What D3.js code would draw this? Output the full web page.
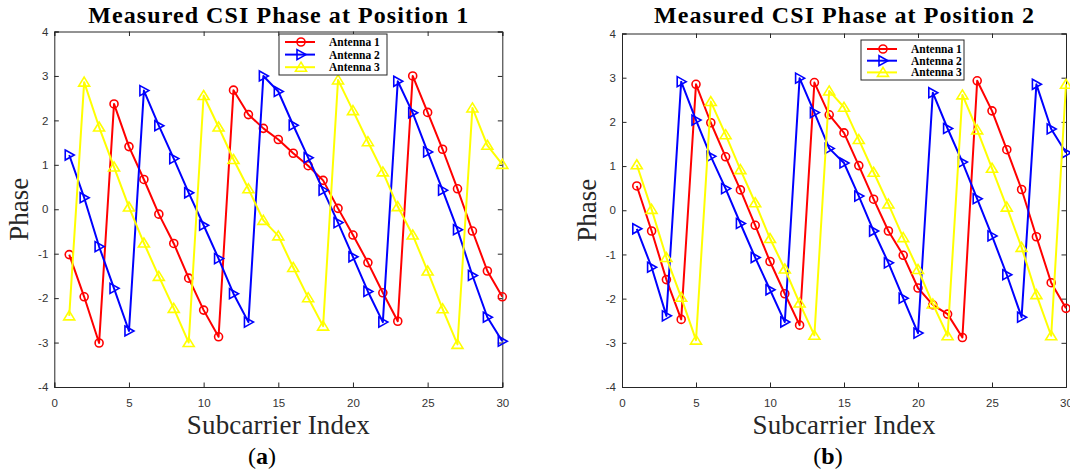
<!DOCTYPE html>
<html>
<head>
<meta charset="utf-8">
<script src="https://cdn.jsdelivr.net/npm/d3@7"></script>
<style>
  html, body { margin: 0; padding: 0; background: #fff; }
  svg { display: block; }
</style>
</head>
<body>
<svg id="chart" width="1070" height="475"></svg>
<script>
// ---------- DATA ----------
const subcarriers = d3.range(1, 31);
const xTicks = [0, 5, 10, 15, 20, 25, 30];
const yTicks = [-4, -3, -2, -1, 0, 1, 2, 3, 4];
const seriesNames = ["Antenna 1", "Antenna 2", "Antenna 3"];

const pos1Antenna1 = [-1.02, -1.97, -3.01, 2.37, 1.41, 0.67, -0.11, -0.77, -1.55, -2.27,
  -2.87, 2.68, 2.13, 1.82, 1.57, 1.26, 0.98, 0.65, 0.02, -0.58,
  -1.20, -1.88, -2.52, 3.00, 2.18, 1.35, 0.46, -0.49, -1.39, -1.97];
const pos1Antenna2 = [1.22, 0.26, -0.84, -1.78, -2.74, 2.67, 1.88, 1.14, 0.37, -0.36,
  -1.11, -1.90, -2.54, 3.00, 2.65, 1.89, 1.16, 0.43, -0.30, -1.07,
  -1.85, -2.54, 2.88, 2.17, 1.29, 0.43, -0.46, -1.49, -2.43, -2.97];
const pos1Antenna3 = [-2.40, 2.86, 1.85, 0.95, 0.05, -0.76, -1.51, -2.23, -3.00, 2.56,
  1.85, 1.12, 0.46, -0.25, -0.60, -1.31, -1.99, -2.63, 2.91, 2.22,
  1.52, 0.84, 0.06, -0.58, -1.39, -2.24, -3.04, 2.28, 1.44, 1.01];

const pos2Antenna1 = [0.55, -0.47, -1.57, -2.47, 2.85, 1.98, 1.21, 0.46, -0.34, -1.16,
  -1.89, -2.60, 2.89, 2.16, 1.75, 1.01, 0.25, -0.47, -1.02, -1.76,
  -2.14, -2.35, -2.88, 2.93, 2.25, 1.37, 0.47, -0.60, -1.64, -2.22];
const pos2Antenna2 = [-0.42, -1.29, -2.39, 2.91, 2.04, 1.22, 0.49, -0.30, -1.07, -1.80,
  -2.53, 2.99, 2.21, 1.40, 1.07, 0.32, -0.47, -1.19, -1.99, -2.78,
  2.66, 1.85, 1.09, 0.26, -0.58, -1.46, -2.42, 2.85, 1.84, 1.30];
const pos2Antenna3 = [1.03, 0.02, -1.07, -1.97, -2.94, 2.46, 1.71, 0.92, 0.17, -0.64,
  -1.33, -2.10, -2.83, 2.70, 2.33, 1.60, 0.86, 0.14, -0.62, -1.34,
  -2.12, -2.84, 2.61, 1.82, 0.95, 0.07, -0.84, -1.91, -2.84, 2.85];

const colors = ["#ff0000", "#0000ff", "#ffff00"];
const markers = ["circle", "triRight", "triUp"];

// ---------- DRAW ----------
const svg = d3.select("#chart");
const axisColor = "#262626";
const serif = "'Liberation Serif', 'DejaVu Serif', serif";
const sans = "'Liberation Sans', Arial, sans-serif";

function drawMarker(g, type, color) {
  if (type === "circle") {
    g.append("circle").attr("r", 4).attr("fill", "none")
      .attr("stroke", color).attr("stroke-width", 1.6);
  } else {
    const d = type === "triRight" ? "M-4,-5 L5,0 L-4,5 Z" : "M0,-5 L5.5,4 L-5.5,4 Z";
    g.append("path").attr("d", d).attr("fill", "none")
      .attr("stroke", color).attr("stroke-width", 1.6).attr("stroke-linejoin", "miter");
  }
}

function drawPanel(cfg) {
  const x = d3.scaleLinear().domain([0, 30]).range([cfg.left, cfg.right]);
  const y = d3.scaleLinear().domain([-4, 4]).range([cfg.bottom, cfg.top]);
  const g = svg.append("g");

  const axB = d3.axisBottom(x).tickValues(xTicks).tickSize(-4.5).tickFormat(d3.format("d"));
  const axT = d3.axisTop(x).tickValues(xTicks).tickSize(-4.5).tickFormat("");
  const axL = d3.axisLeft(y).tickValues(yTicks).tickSize(-4.5).tickFormat(d => String(d));
  const axR = d3.axisRight(y).tickValues(yTicks).tickSize(-4.5).tickFormat("");

  const gb = g.append("g").attr("transform", `translate(0,${cfg.bottom})`).call(axB);
  const gt = g.append("g").attr("transform", `translate(0,${cfg.top})`).call(axT);
  const gl = g.append("g").attr("transform", `translate(${cfg.left},0)`).call(axL);
  const gr = g.append("g").attr("transform", `translate(${cfg.right},0)`).call(axR);
  [gb, gt, gl, gr].forEach(a => {
    a.select(".domain").attr("stroke", axisColor).attr("stroke-width", 1);
    a.selectAll(".tick line").attr("stroke", axisColor).attr("stroke-width", 1);
    a.selectAll("text").attr("fill", "#333").style("font-family", sans).style("font-size", "11.5px");
  });
  gb.selectAll(".tick text").attr("dy", "0").attr("y", 20);
  gl.selectAll(".tick text").attr("x", -6);

  // series
  const line = d3.line().x((d, i) => x(subcarriers[i])).y(d => y(d));
  cfg.series.forEach((vals, si) => {
    g.append("path").datum(vals).attr("d", line).attr("fill", "none")
      .attr("stroke", colors[si]).attr("stroke-width", 2).attr("stroke-linejoin", "round");
    vals.forEach((v, i) => {
      const mg = g.append("g").attr("transform", `translate(${x(subcarriers[i])},${y(v)})`);
      drawMarker(mg, markers[si], colors[si]);
    });
  });

  // title
  g.append("text").attr("x", (cfg.left + cfg.right) / 2).attr("y", 23)
    .attr("text-anchor", "middle").style("font-family", serif).style("font-weight", "bold")
    .style("font-size", "24px").attr("fill", "#000")
    .attr("textLength", 380).attr("lengthAdjust", "spacing").text(cfg.title);

  // axis labels
  g.append("text").attr("x", (cfg.left + cfg.right) / 2).attr("y", 434)
    .attr("text-anchor", "middle").style("font-family", serif).style("font-size", "27px")
    .attr("fill", axisColor).attr("textLength", 183).attr("lengthAdjust", "spacing")
    .text("Subcarrier Index");
  g.append("text").attr("transform", `translate(${cfg.left - 26},${(cfg.top + cfg.bottom) / 2}) rotate(-90)`)
    .attr("text-anchor", "middle").style("font-family", serif).style("font-size", "27px")
    .attr("fill", axisColor).text("Phase");

  // sub caption
  const cap = g.append("text").attr("x", cfg.capX).attr("y", 464).attr("text-anchor", "middle")
    .style("font-family", serif).style("font-size", "24px").attr("fill", "#000");
  cap.append("tspan").text("(");
  cap.append("tspan").style("font-weight", "bold").text(cfg.cap);
  cap.append("tspan").text(")");

  // legend
  const L = cfg.legend;
  const lg = g.append("g");
  lg.append("rect").attr("x", L.x).attr("y", L.y).attr("width", L.w).attr("height", L.h)
    .attr("fill", "#fff").attr("stroke", axisColor).attr("stroke-width", 1);
  seriesNames.forEach((name, si) => {
    const cy = L.y + L.first + si * L.step;
    lg.append("line").attr("x1", L.x + 6).attr("x2", L.x + 36).attr("y1", cy).attr("y2", cy)
      .attr("stroke", colors[si]).attr("stroke-width", 2);
    const mg = lg.append("g").attr("transform", `translate(${L.x + 22},${cy})`);
    drawMarker(mg, markers[si], colors[si]);
    lg.append("text").attr("x", L.x + 50).attr("y", cy + 4).style("font-family", serif)
      .style("font-weight", "bold").style("font-size", "11.5px").attr("fill", "#000").text(name);
  });
}

drawPanel({
  left: 54.3, right: 502.3, top: 31.5, bottom: 387,
  series: [pos1Antenna1, pos1Antenna2, pos1Antenna3],
  title: "Measured CSI Phase at Position 1", cap: "a", capX: 262,
  legend: { x: 279, y: 34, w: 108, h: 41, first: 8, step: 12.6 }
});
drawPanel({
  left: 622, right: 1066, top: 33.5, bottom: 387,
  series: [pos2Antenna1, pos2Antenna2, pos2Antenna3],
  title: "Measured CSI Phase at Position 2", cap: "b", capX: 828,
  legend: { x: 861, y: 40, w: 103, h: 40, first: 9, step: 11.7 }
});
</script>
</body>
</html>
